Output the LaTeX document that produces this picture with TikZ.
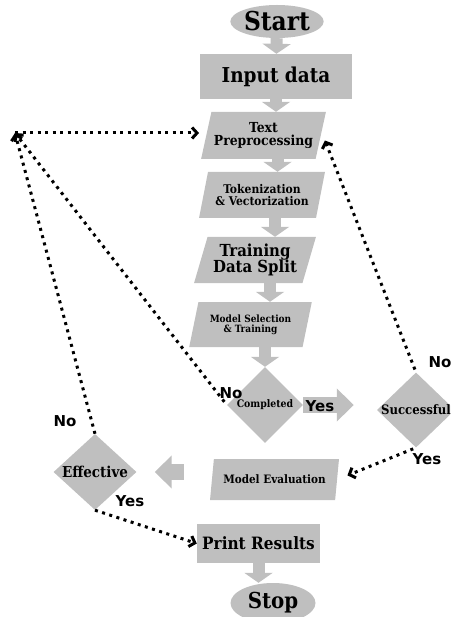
\documentclass[tikz,border=0pt]{standalone}
\usepackage{fontspec}
\setmainfont{DejaVu Serif Condensed}
\newfontfamily\lblfont{DejaVu Sans}
\usetikzlibrary{shapes.geometric,arrows.meta}
\definecolor{boxgray}{RGB}{191,191,191}

\newcommand{\fsz}[1]{\bfseries\fontsize{#1}{#1}\selectfont}

\begin{document}
\begin{tikzpicture}[x=1pt,y=-1pt,
    startstop/.style={ellipse, fill=boxgray, inner sep=0pt},
    procbox/.style={rectangle, fill=boxgray, inner sep=0pt},
    iobox/.style={trapezium, trapezium left angle=70, trapezium right angle=110,
        trapezium stretches=true, fill=boxgray, inner sep=0pt, align=center},
    decision/.style={diamond, fill=boxgray, inner sep=0pt},
    flow/.style={boxgray, line width=12pt, -{Triangle[length=10pt,width=28pt]}},
    sideflow/.style={boxgray, line width=16pt, -{Triangle[length=17pt,width=32pt]}},
    loopback/.style={black, line width=3pt, dash pattern=on 3pt off 4.5pt,
        -{Straight Barb[length=5pt,width=11pt]}},
    answer/.style={font=\lblfont\fsz{15}}]
   \useasboundingbox (0,0) rectangle (450,617);
   \clip (0,0) rectangle (450,617);
   % main column
   \node[startstop, minimum width=85pt, minimum height=33pt, font=\fsz{26}] (start) at (277,21.5) {Start};
   \node[procbox, minimum width=152pt, minimum height=45pt, font=\fsz{20.5}] (input) at (276,76.5) {Input data};
   \node[iobox, minimum width=125pt, minimum height=47pt, font=\fsz{13.8}] (tp) at (263.5,135.5) {Text\\Preprocessing};
   \node[iobox, minimum width=126pt, minimum height=46pt, font=\fsz{12}] (tok) at (262,195) {Tokenization\\\& Vectorization};
   \node[iobox, minimum width=122pt, minimum height=46pt, font=\fsz{16.6}] (train) at (255,260) {Training\\Data Split};
   \node[iobox, minimum width=123pt, minimum height=45pt, font=\fsz{10}] (msel) at (250.5,324.5) {Model Selection\\\& Training};
   \node[decision, minimum width=76pt, minimum height=76pt, font=\fsz{10.4}] (cmpl) at (265,405) {Completed};
   \node[decision, minimum width=78pt, minimum height=75pt, inner xsep=-4pt, font=\fsz{13}] (succ) at (416,410) {Successful};
   \node[iobox, minimum width=129pt, minimum height=41pt, font=\fsz{11.6}] (meval) at (274.5,479.5) {Model Evaluation};
   \node[decision, minimum width=83pt, minimum height=76pt, inner xsep=-2pt, font=\fsz{15}] (eff) at (95,472) {Effective};
   \node[procbox, minimum width=123pt, minimum height=39pt, font=\fsz{17}] (print) at (258.5,543.5) {Print Results};
   \node[startstop, minimum width=85pt, minimum height=40pt, font=\fsz{22}] (stop) at (273,603) {Stop};
   % gray arrows
   \draw[flow] (start) -- (input);
   \draw[flow] (input.south) -- (input.south |- tp.north);
   \draw[flow] ([xshift=14pt]tp.south) -- ([xshift=14pt]tp.south |- tok.north);
   \draw[flow] ([xshift=13pt]tok.south) -- ([xshift=13pt]tok.south |- train.north);
   \draw[flow] ([xshift=15pt]train.south) -- ([xshift=15pt]train.south |- msel.north);
   \draw[flow] (msel.south -| cmpl.north) -- (cmpl.north);
   \draw[sideflow, shorten >=23pt] (cmpl.east) -- (cmpl.east -| succ.west);
   \draw[sideflow, shorten <=28pt, shorten >=18pt] (meval.west |- eff.east) -- (eff.east);
   \draw[flow] (print.south) -- (print.south |- stop.north);
   % dotted loops
   \coordinate (back) at (15,133);
   \draw[loopback] (eff.north) -- (back);
   \draw[loopback, shorten <=4pt] (cmpl.west) -- (back);
   \draw[loopback, shorten >=7pt] (back) -- (back -| tp.west);
   \draw[loopback, shorten <=3pt] (succ.north) -- ([xshift=4pt,yshift=-5pt]tp.east);
   \draw[loopback, shorten <=3pt, shorten >=11pt] (succ.south) -- (meval.east);
   \draw[loopback] (eff.south) -- (print.west);
   % answers
   \node[answer] (cmplno) at (231,393) {No};
   \node[answer] (cmplyes) at (320,406) {Yes};
   \node[answer] (succno) at (440,362) {No};
   \node[answer] (succyes) at (427,459) {Yes};
   \node[answer] (effno) at (65,421) {No};
   \node[answer] (effyes) at (130,501) {Yes};
 \end{tikzpicture}
\end{document}
